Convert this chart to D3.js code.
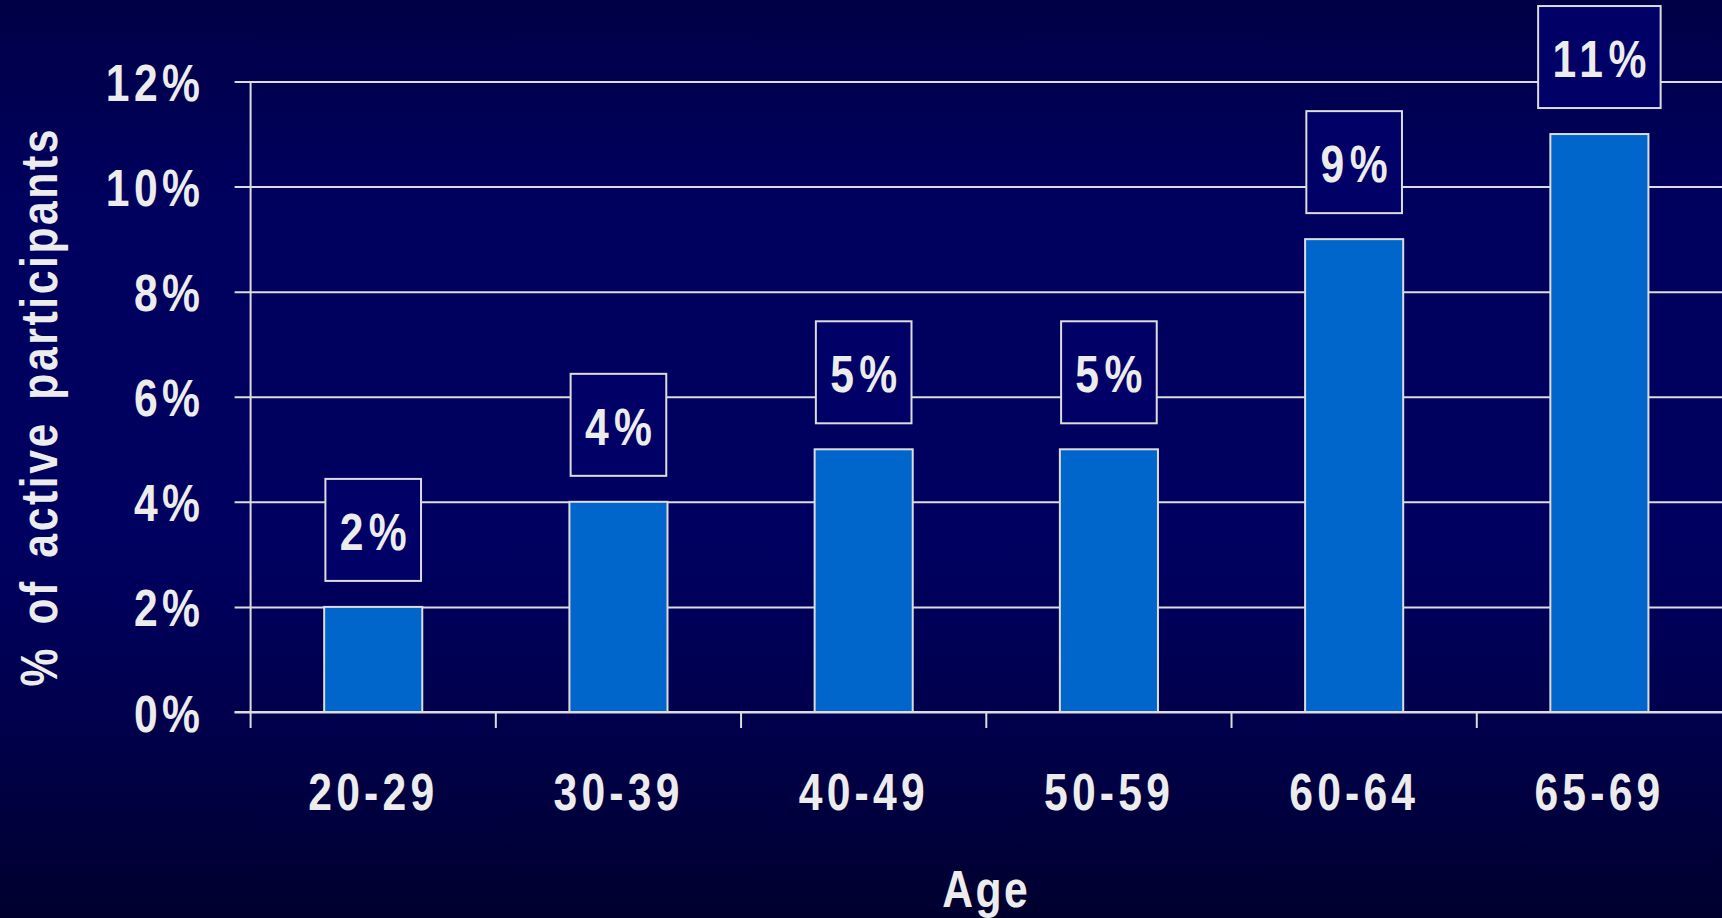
<!DOCTYPE html>
<html>
<head>
<meta charset="utf-8">
<script src="https://cdn.jsdelivr.net/npm/d3@7"></script>
<style>
  html, body { margin: 0; padding: 0; background: #000040; }
  svg { display: block; }
  text { font-family: "Liberation Sans", Arial, sans-serif; font-weight: bold; fill: #ececec; }
</style>
</head>
<body>
<svg id="chart" width="1722" height="918"></svg>
<script>
// ---- data ----
const categories = ["20-29", "30-39", "40-49", "50-59", "60-64", "65-69"];
const values = [2, 4, 5, 5, 9, 11];
const valueLabels = ["2%", "4%", "5%", "5%", "9%", "11%"];
const yTicks = [0, 2, 4, 6, 8, 10, 12];
const yTickLabels = ["0%", "2%", "4%", "6%", "8%", "10%", "12%"];
const xTitle = "Age";
const yTitle = "% of active participants";

(function () {
// ---- layout ----
const W = 1722, H = 918;
const mLeft = 250.6, mRight = 1722, mTop = 81.5, mBottom = 712;
const svg = d3.select("#chart");
const SX = 0.82;            // horizontal condensing (narrow bold face)
const fontSize = 52;
const lineColor = "#dcdcdc";

const defs = svg.append("defs");
const grad = defs.append("linearGradient").attr("id", "bg").attr("x1", 0).attr("y1", 0).attr("x2", 0).attr("y2", 1);
grad.append("stop").attr("offset", "0%").attr("stop-color", "#000046");
grad.append("stop").attr("offset", "22%").attr("stop-color", "#00005e");
grad.append("stop").attr("offset", "60%").attr("stop-color", "#000060");
grad.append("stop").attr("offset", "82%").attr("stop-color", "#000048");
grad.append("stop").attr("offset", "100%").attr("stop-color", "#00002e");
svg.append("rect").attr("width", W).attr("height", H).attr("fill", "url(#bg)");

const x = d3.scaleBand().domain(categories).range([mLeft, mRight]).padding(0);
const y = d3.scaleLinear().domain([0, 12]).range([mBottom, mTop]);

// condensed text helper: s = letter spacing in final pixels
function narrow(sel, px, py, s, anchor, rotate, ws) {
  sel.attr("x", anchor === "middle" ? (s / 2) / SX : (anchor === "end" ? s / SX : 0)).attr("y", 0)
    .attr("dy", null)
    .attr("text-anchor", anchor)
    .attr("font-size", fontSize)
    .attr("letter-spacing", s / SX)
    .attr("transform", `translate(${px},${py})${rotate ? " rotate(" + rotate + ")" : ""} scale(${SX},1)`);
  if (ws) sel.attr("word-spacing", ws / SX);
  return sel;
}

// gridlines + y ticks
const yAxis = d3.axisLeft(y).tickValues(yTicks).tickSize(-(mRight - mLeft)).tickSizeOuter(0)
  .tickFormat((d, i) => yTickLabels[i]);
const gy = svg.append("g").attr("transform", `translate(${mLeft},0)`).call(yAxis);
gy.attr("font-family", null).attr("font-size", null);
gy.select(".domain").remove();
gy.selectAll(".tick line").attr("stroke", lineColor).attr("stroke-width", 2).attr("x1", -16);
gy.selectAll(".tick text").attr("fill", "#ececec").each(function () {
  narrow(d3.select(this), 200 - mLeft, 19, 4.4, "end");
});

// y axis line
svg.append("line").attr("x1", mLeft).attr("x2", mLeft).attr("y1", mTop).attr("y2", mBottom + 16)
  .attr("stroke", lineColor).attr("stroke-width", 2);

// x axis labels
const xAxis = d3.axisBottom(x).tickSize(0).tickSizeOuter(0);
const gx = svg.append("g").attr("transform", `translate(0,${mBottom})`).call(xAxis);
gx.attr("font-family", null).attr("font-size", null);
gx.select(".domain").remove();
gx.selectAll(".tick text").attr("fill", "#ececec").each(function () {
  narrow(d3.select(this), -2, 98, 4.2, "middle");
});
// x ticks at band boundaries
svg.append("g").selectAll("line").data(categories.slice(1)).join("line")
  .attr("x1", d => x(d)).attr("x2", d => x(d))
  .attr("y1", mBottom).attr("y2", mBottom + 16)
  .attr("stroke", lineColor).attr("stroke-width", 2);

// bars
const barW = x.bandwidth() * 0.4;
svg.append("g").selectAll("rect").data(values).join("rect")
  .attr("x", (d, i) => x(categories[i]) + x.bandwidth() / 2 - barW / 2)
  .attr("y", d => y(d))
  .attr("width", barW)
  .attr("height", d => y(0) - y(d))
  .attr("fill", "#0066cc")
  .attr("stroke", lineColor).attr("stroke-width", 2);

// baseline redraw
svg.append("line").attr("x1", mLeft - 16).attr("x2", mRight).attr("y1", mBottom).attr("y2", mBottom)
  .attr("stroke", lineColor).attr("stroke-width", 2);

// value label boxes
const boxH = 102, gap = 26;
svg.append("g").selectAll("g").data(values).join("g").each(function (d, i) {
  const g = d3.select(this);
  const cx = x(categories[i]) + x.bandwidth() / 2;
  const boxBottom = y(d) - gap;
  const boxTop = boxBottom - boxH;
  const rect = g.append("rect");
  const t = narrow(g.append("text").text(valueLabels[i]), cx, boxTop + 71, 5.5, "middle");
  const adv = t.node().getComputedTextLength() * SX;
  const bw = adv + 23;
  rect.attr("x", cx - bw / 2).attr("y", boxTop).attr("width", bw).attr("height", boxH)
    .attr("fill", "#000066").attr("stroke", lineColor).attr("stroke-width", 2);
});

// axis titles
narrow(svg.append("text").text(xTitle), 985, 907, 2.5, "middle");
narrow(svg.append("text").text(yTitle), 57, 408, 2.6, "middle", -90, 7);
})();
</script>
</body>
</html>
